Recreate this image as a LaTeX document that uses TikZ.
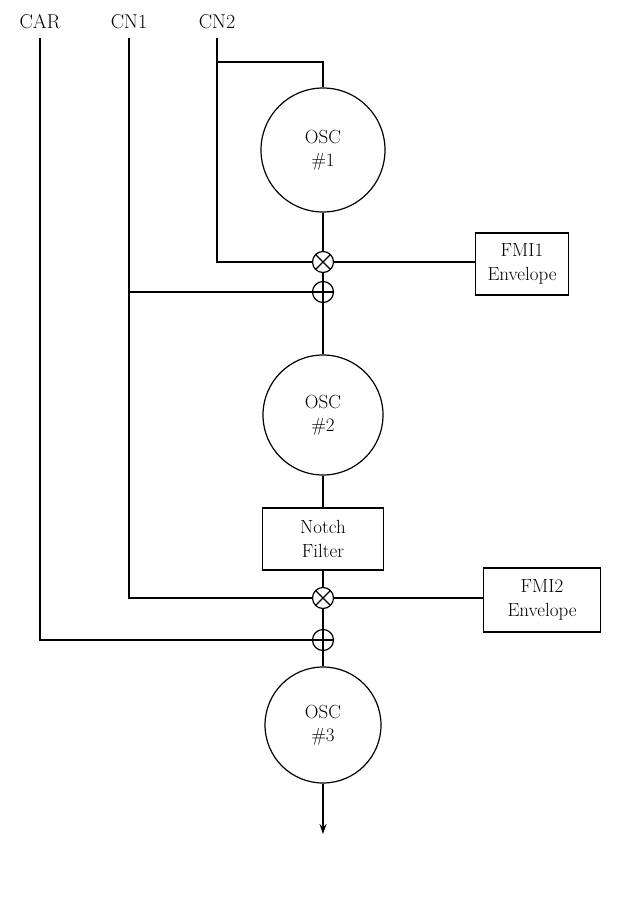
\documentclass[tikz,border=0pt]{standalone}
\usepackage{fontspec}
\usetikzlibrary{arrows.meta,positioning}
\tikzset{
    wire/.style={line width=1.2pt},
    lbl/.style={inner xsep=1pt, inner ysep=9pt, font=\fontsize{20}{22}\selectfont},
    osc/.style={circle, draw, line width=1.2pt, minimum size=124pt, inner sep=0pt,
        align=center, font=\fontsize{19}{23}\selectfont},
    blk/.style={rectangle, draw, line width=1.2pt, minimum height=62pt, inner sep=2pt,
        align=center, font=\fontsize{19}{24}\selectfont},
    mult/.style={circle, draw, line width=1.2pt, minimum size=21pt, inner sep=0pt,
        path picture={
            \draw[line width=1.2pt] (path picture bounding box.north west) -- (path picture bounding box.south east);
            \draw[line width=1.2pt] (path picture bounding box.north east) -- (path picture bounding box.south west);}},
    adder/.style={circle, draw, line width=1.2pt, minimum size=21pt, inner sep=0pt,
        path picture={
            \draw[line width=1.2pt] (path picture bounding box.north) -- (path picture bounding box.south);
            \draw[line width=1.2pt] (path picture bounding box.west) -- (path picture bounding box.east);}}
}
\begin{document}
\begin{tikzpicture}[x=1pt, y=-1pt]
    \useasboundingbox (0,0) rectangle (617,915);
    % control inputs
    \node[lbl] (car) at (40,22) {CAR};
    \node[lbl] (cna) at (129,22) {CN1};
    \node[lbl] (cnb) at (217,22) {CN2};
    % oscillator chain
    \node[osc] (osca) at (323,150) {OSC\\\#1};
    \node[mult] (mula) at (323,262) {};
    \node[adder] (adda) at (323,292) {};
    \node[osc, minimum size=120pt] (oscb) at (323,415) {OSC\\\#2};
    \node[blk, minimum width=121pt] (notch) at (323,539) {Notch\\Filter};
    \node[mult] (mulb) at (323,598) {};
    \node[adder] (addb) at (323,640) {};
    \node[osc, minimum size=116pt] (oscc) at (323,725) {OSC\\\#3};
    \coordinate (out) at (323,834);
    % envelopes
    \node[blk, minimum width=93pt] (fmia) at (522,264) {FMI1\\Envelope};
    \node[blk, minimum width=117pt, minimum height=64pt] (fmib) at (542,600) {FMI2\\Envelope};
    \coordinate (tap) at (217,62);
    % wiring
    \draw[wire] (cnb.south) -- (cnb.south |- mula) -- (mula);
    \draw[wire] (tap) -| (osca);
    \draw[wire] (osca) -- (mula) -- (adda) -- (oscb) -- (notch) -- (mulb) -- (addb) -- (oscc);
    \draw[wire] (mula) -- (mula -| fmia.west);
    \draw[wire] (mulb) -- (mulb -| fmib.west);
    \draw[wire] (cna.south) |- (mulb);
    \draw[wire] (cna.south |- adda) -- (adda);
    \draw[wire] (car.south) |- (addb);
    \draw[wire, -{Stealth[length=10pt, width=7pt]}] (oscc) -- (out);
\end{tikzpicture}
\end{document}
